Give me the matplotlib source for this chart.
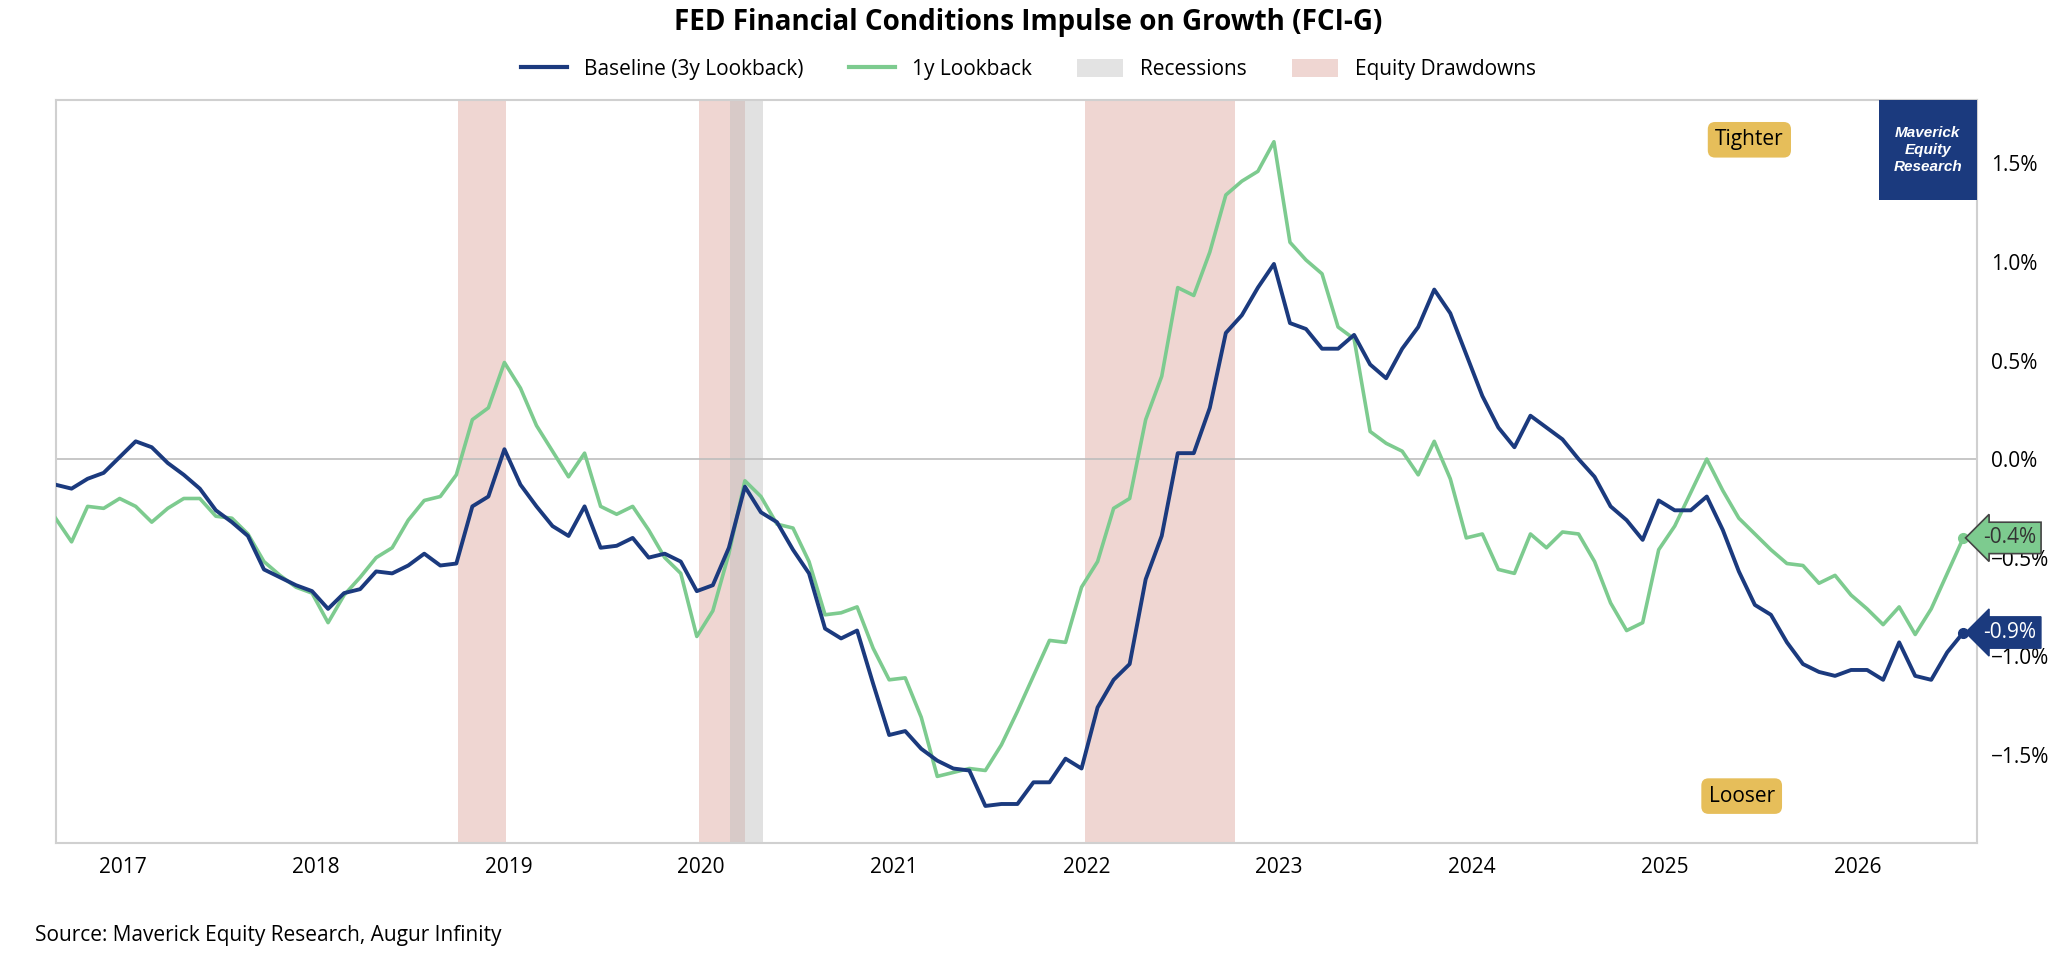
import numpy as np
import matplotlib.pyplot as plt
from matplotlib.patches import Patch
from matplotlib.lines import Line2D

plt.rcParams['font.family'] = ['Open Sans', 'DejaVu Sans']

# monthly readings, Sep 2016 .. Oct 2026 (percent)
baseline = [-0.13, -0.15, -0.10, -0.07, 0.01, 0.09, 0.06, -0.02, -0.08, -0.15, -0.26, -0.32, -0.39,
            -0.56, -0.60, -0.64, -0.67, -0.76, -0.68, -0.66, -0.57, -0.58, -0.54, -0.48, -0.54, -0.53,
            -0.24, -0.19, 0.05, -0.13, -0.24, -0.34, -0.39, -0.24, -0.45, -0.44, -0.40, -0.50, -0.48,
            -0.52, -0.67, -0.64, -0.45, -0.14, -0.27, -0.32, -0.46, -0.58, -0.86, -0.91, -0.87, -1.14,
            -1.40, -1.38, -1.47, -1.53, -1.57, -1.58, -1.76, -1.75, -1.75, -1.64, -1.64, -1.52, -1.57,
            -1.26, -1.12, -1.04, -0.61, -0.39, 0.03, 0.03, 0.26, 0.64, 0.73, 0.87, 0.99, 0.69, 0.66,
            0.56, 0.56, 0.63, 0.48, 0.41, 0.56, 0.67, 0.86, 0.74, 0.53, 0.32, 0.16, 0.06, 0.22, 0.16,
            0.10, 0.00, -0.09, -0.24, -0.31, -0.41, -0.21, -0.26, -0.26, -0.19, -0.36, -0.57, -0.74,
            -0.79, -0.93, -1.04, -1.08, -1.10, -1.07, -1.07, -1.12, -0.93, -1.10, -1.12, -0.98, -0.88]
lookback_1y = [-0.30, -0.42, -0.24, -0.25, -0.20, -0.24, -0.32, -0.25, -0.20, -0.20, -0.29, -0.30, -0.38,
               -0.52, -0.59, -0.65, -0.68, -0.83, -0.69, -0.60, -0.50, -0.45, -0.31, -0.21, -0.19, -0.08,
               0.20, 0.26, 0.49, 0.36, 0.17, 0.04, -0.09, 0.03, -0.24, -0.28, -0.24, -0.36, -0.50, -0.58,
               -0.90, -0.77, -0.48, -0.11, -0.19, -0.33, -0.35, -0.52, -0.79, -0.78, -0.75, -0.96, -1.12,
               -1.11, -1.31, -1.61, -1.59, -1.57, -1.58, -1.45, -1.28, -1.10, -0.92, -0.93, -0.65, -0.52,
               -0.25, -0.20, 0.20, 0.42, 0.87, 0.83, 1.05, 1.34, 1.41, 1.46, 1.61, 1.10, 1.01, 0.94, 0.67,
               0.61, 0.14, 0.08, 0.04, -0.08, 0.09, -0.10, -0.40, -0.38, -0.56, -0.58, -0.38, -0.45, -0.37,
               -0.38, -0.52, -0.73, -0.87, -0.83, -0.46, -0.34, -0.17, 0.00, -0.16, -0.30, -0.38, -0.46,
               -0.53, -0.54, -0.63, -0.59, -0.69, -0.76, -0.84, -0.75, -0.89, -0.76, -0.58, -0.40]
drawdowns = [(2018.74, 2018.99), (2019.99, 2020.23), (2021.99, 2022.77)]
recessions = [(2020.15, 2020.32)]
years = list(range(2017, 2027))
yticks = [-1.5, -1.0, -0.5, 0.0, 0.5, 1.0, 1.5]

navy = '#1B3A7E'
green = '#7DCB8F'
gold = '#E6BE5A'

x = np.linspace(2016.65, 2026.55, len(baseline))

fig = plt.figure(figsize=(20.57, 9.65), dpi=100)
ax = fig.add_axes([0.027, 0.126, 0.934, 0.770])

for a, b in drawdowns:
    ax.axvspan(a, b, color='#EFD6D2', lw=0, zorder=0)
for a, b in recessions:
    ax.axvspan(a, b, color='#BDBDBD', alpha=0.45, lw=0, zorder=1)
ax.axhline(0, color='#BDBDBD', lw=1.2, zorder=1)

ax.plot(x, lookback_1y, color=green, lw=2.6, zorder=3)
ax.plot(x, baseline, color=navy, lw=2.8, zorder=4)
ax.plot(x[-1], lookback_1y[-1], 'o', color=green, ms=7, zorder=5)
ax.plot(x[-1], baseline[-1], 'o', color=navy, ms=7, zorder=5)

ax.set_xlim(2016.65, 2026.62)
ax.set_ylim(-1.95, 1.82)
ax.set_xticks(years)
ax.set_xticklabels([str(y) for y in years])
ax.yaxis.tick_right()
ax.set_yticks(yticks)
ax.set_yticklabels([f'{v:.1f}%'.replace('-', '\u2212') for v in yticks])
ax.tick_params(length=0, labelsize=15, pad=10)
for s in ax.spines.values():
    s.set_color('#D0D0D0')
    s.set_linewidth(1.5)

# end-value tags
ax.annotate(f'{lookback_1y[-1]:.1f}%', (x[-1], lookback_1y[-1]), xytext=(14, 0),
            textcoords='offset points', va='center', fontsize=15, color='#333333',
            bbox=dict(boxstyle='larrow,pad=0.25', fc=green, ec='#444444', lw=1.2),
            annotation_clip=False, zorder=6)
ax.annotate(f'{baseline[-1]:.1f}%', (x[-1], baseline[-1]), xytext=(14, 0),
            textcoords='offset points', va='center', fontsize=15, color='white',
            bbox=dict(boxstyle='larrow,pad=0.25', fc=navy, ec=navy),
            annotation_clip=False, zorder=6)

ax.text(2025.44, 1.62, 'Tighter', fontsize=15, ha='center', va='center',
        bbox=dict(boxstyle='round,pad=0.35', fc=gold, ec='none'))
ax.text(2025.40, -1.71, 'Looser', fontsize=15, ha='center', va='center',
        bbox=dict(boxstyle='round,pad=0.35', fc=gold, ec='none'))

ax.add_patch(plt.Rectangle((0.949, 0.866), 0.051, 0.134, transform=ax.transAxes,
                           fc=navy, ec='none', zorder=6))
ax.text(0.9745, 0.933, 'Maverick\nEquity\nResearch', transform=ax.transAxes, ha='center',
        va='center', color='white', fontsize=11, fontweight='bold', style='italic',
        family='Liberation Sans', linespacing=1.3, zorder=7)

fig.text(0.5, 0.977, 'FED Financial Conditions Impulse on Growth (FCI-G)', ha='center',
         va='center', fontsize=20, fontweight='bold')
handles = [Line2D([], [], color=navy, lw=3), Line2D([], [], color=green, lw=3),
           Patch(fc='#E3E3E3'), Patch(fc='#EFD6D2')]
fig.legend(handles, ['Baseline (3y Lookback)', '1y Lookback', 'Recessions', 'Equity Drawdowns'],
           loc='center', bbox_to_anchor=(0.5, 0.928), ncol=4, frameon=False, fontsize=15,
           handlelength=2.2, handleheight=1.0, columnspacing=2.2)
fig.text(0.017, 0.031, 'Source: Maverick Equity Research, Augur Infinity', fontsize=15, va='center')

fig.savefig('out.png', dpi=100)
